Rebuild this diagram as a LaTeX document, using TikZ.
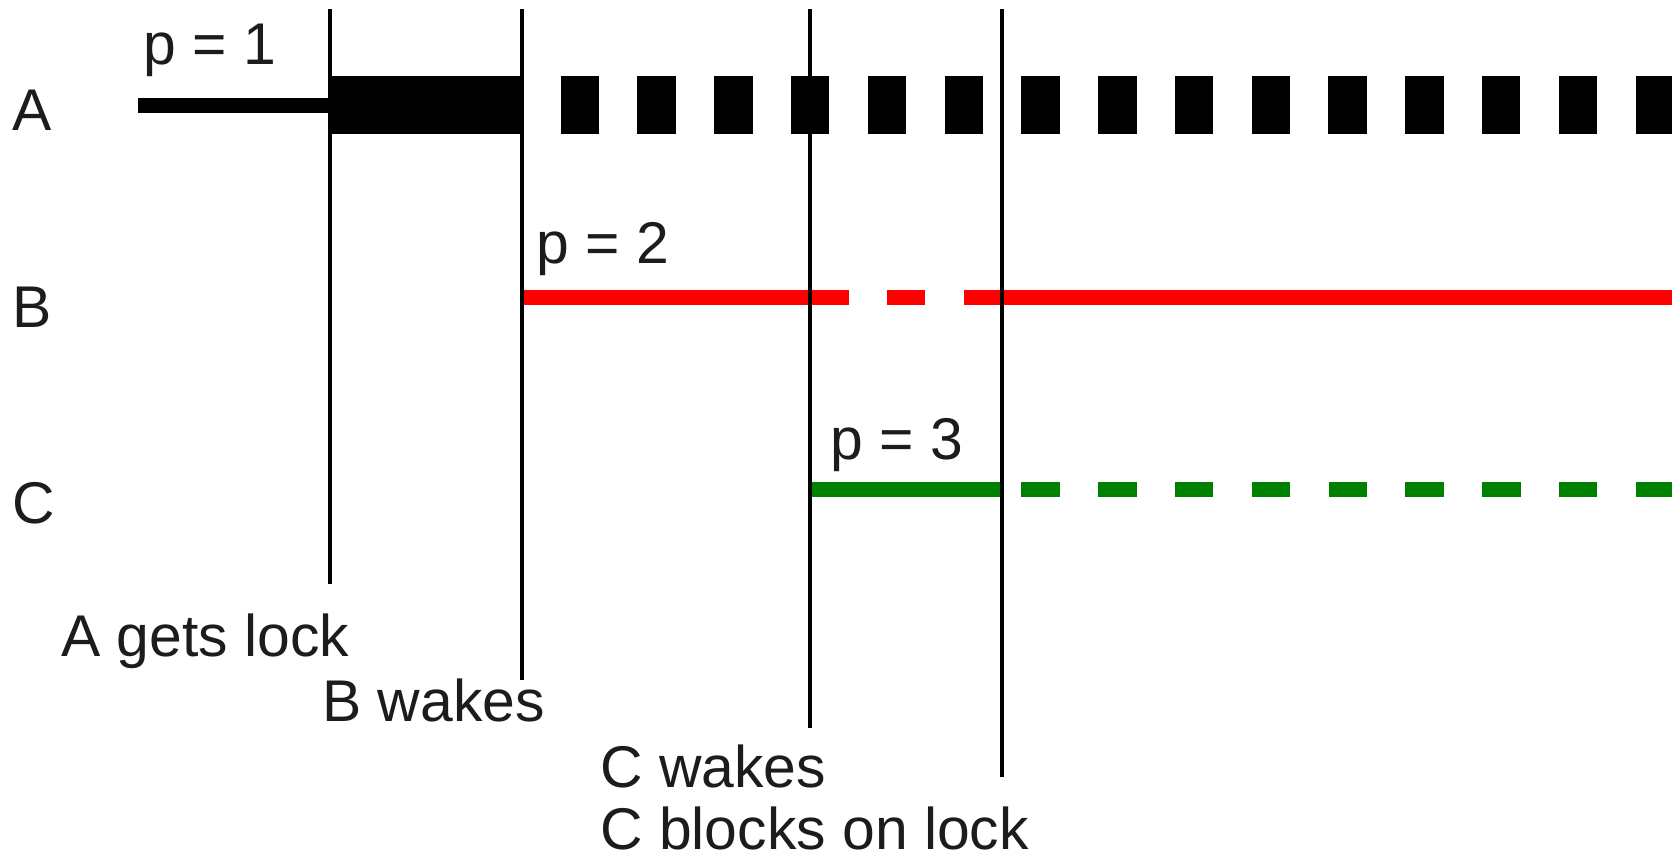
\documentclass[tikz,border=0pt]{standalone}
\usepackage{fontspec}
\setmainfont{Liberation Sans}

\definecolor{lockred}{RGB}{255,0,0}
\definecolor{lockgreen}{RGB}{0,128,0}
\definecolor{inkgray}{RGB}{28,28,28}

\tikzset{
	lbl/.style={anchor=base west, inner sep=0pt, text=inkgray, font=\fontsize{33.5pt}{40pt}\selectfont},
	event/.style={line width=0.07cm, black},
	thread/.style={line width=0.3cm},
	holding/.style={line width=1.16cm, black},
	waiting/.style={dash pattern=on 0.768cm off 0.768cm},
}

\begin{document}
\begin{tikzpicture}[x=0.02cm, y=-0.02cm]
	\useasboundingbox (0,0) rectangle (1672,856);
	
	% Tham số: vị trí các luồng và mép phải
	\def\yA{105} % luồng A
	\def\yB{297} % luồng B
	\def\yC{489} % luồng C
	\def\xEnd{1672}
	
	% 1. Các thời điểm sự kiện
	\coordinate (ev1top) at (330,9);  \coordinate (ev1bot) at (330,584);
	\coordinate (ev2top) at (522,9);  \coordinate (ev2bot) at (522,680);
	\coordinate (ev3top) at (810,9);  \coordinate (ev3bot) at (810,728);
	\coordinate (ev4top) at (1002,9); \coordinate (ev4bot) at (1002,777);
	
	% 2. Nhãn các luồng
	\node[lbl] (rowA) at (12,130) {A};
	\node[lbl] (rowB) at (12,327) {B};
	\node[lbl] (rowC) at (12,523) {C};
	
	% Độ ưu tiên
	\node[lbl] (prioA) at (143,64) {p = 1};
	\node[lbl] (prioB) at (536,263) {p = 2};
	\node[lbl] (prioC) at (830,459) {p = 3};
	
	% 3. Luồng A: chạy, giữ khóa, rồi chờ
	\coordinate (aStart) at (138,\yA);
	\coordinate (aLock) at (ev1top |- aStart);
	\coordinate (aFree) at (ev2top |- aStart);
	\coordinate (aWait) at (560.6,\yA);
	\coordinate (aEnd) at (\xEnd,\yA);
	\draw[thread] (aStart) -- (aLock);
	\draw[holding] (aLock) -- (aFree);
	\draw[holding, waiting] (aWait) -- (aEnd);
	
	% 4. Luồng B (đỏ)
	\coordinate (bStart) at (522,\yB);
	\coordinate (bGap) at (849,\yB);
	\coordinate (bDash) at (887,\yB);
	\coordinate (bRun) at (1002,\yB);
	\coordinate (bEnd) at (\xEnd,\yB);
	\draw[thread, lockred] (bStart) -- (bGap);
	\draw[thread, lockred, waiting] (bDash) -- (bRun);
	\draw[thread, lockred] (bRun) -- (bEnd);
	
	% 5. Luồng C (xanh lá)
	\coordinate (cStart) at (810,\yC);
	\coordinate (cBlock) at (1002,\yC);
	\coordinate (cWait) at (1021.4,\yC);
	\coordinate (cEnd) at (\xEnd,\yC);
	\draw[thread, lockgreen] (cStart) -- (cBlock);
	\draw[thread, lockgreen, waiting] (cWait) -- (cEnd);
	
	% 6. Đường gióng dọc các sự kiện
	\draw[event] (ev1top) -- (ev1bot);
	\draw[event] (ev2top) -- (ev2bot);
	\draw[event] (ev3top) -- (ev3bot);
	\draw[event] (ev4top) -- (ev4bot);
	
	% Chú thích sự kiện
	\node[lbl] (getsLock) at (61,656) {A gets lock};
	\node[lbl] (bWakes) at (322,721) {B wakes};
	\node[lbl] (cWakes) at (600,787) {C wakes};
	\node[lbl] (cBlocks) at (600,849) {C blocks on lock};
	
\end{tikzpicture}
\end{document}
